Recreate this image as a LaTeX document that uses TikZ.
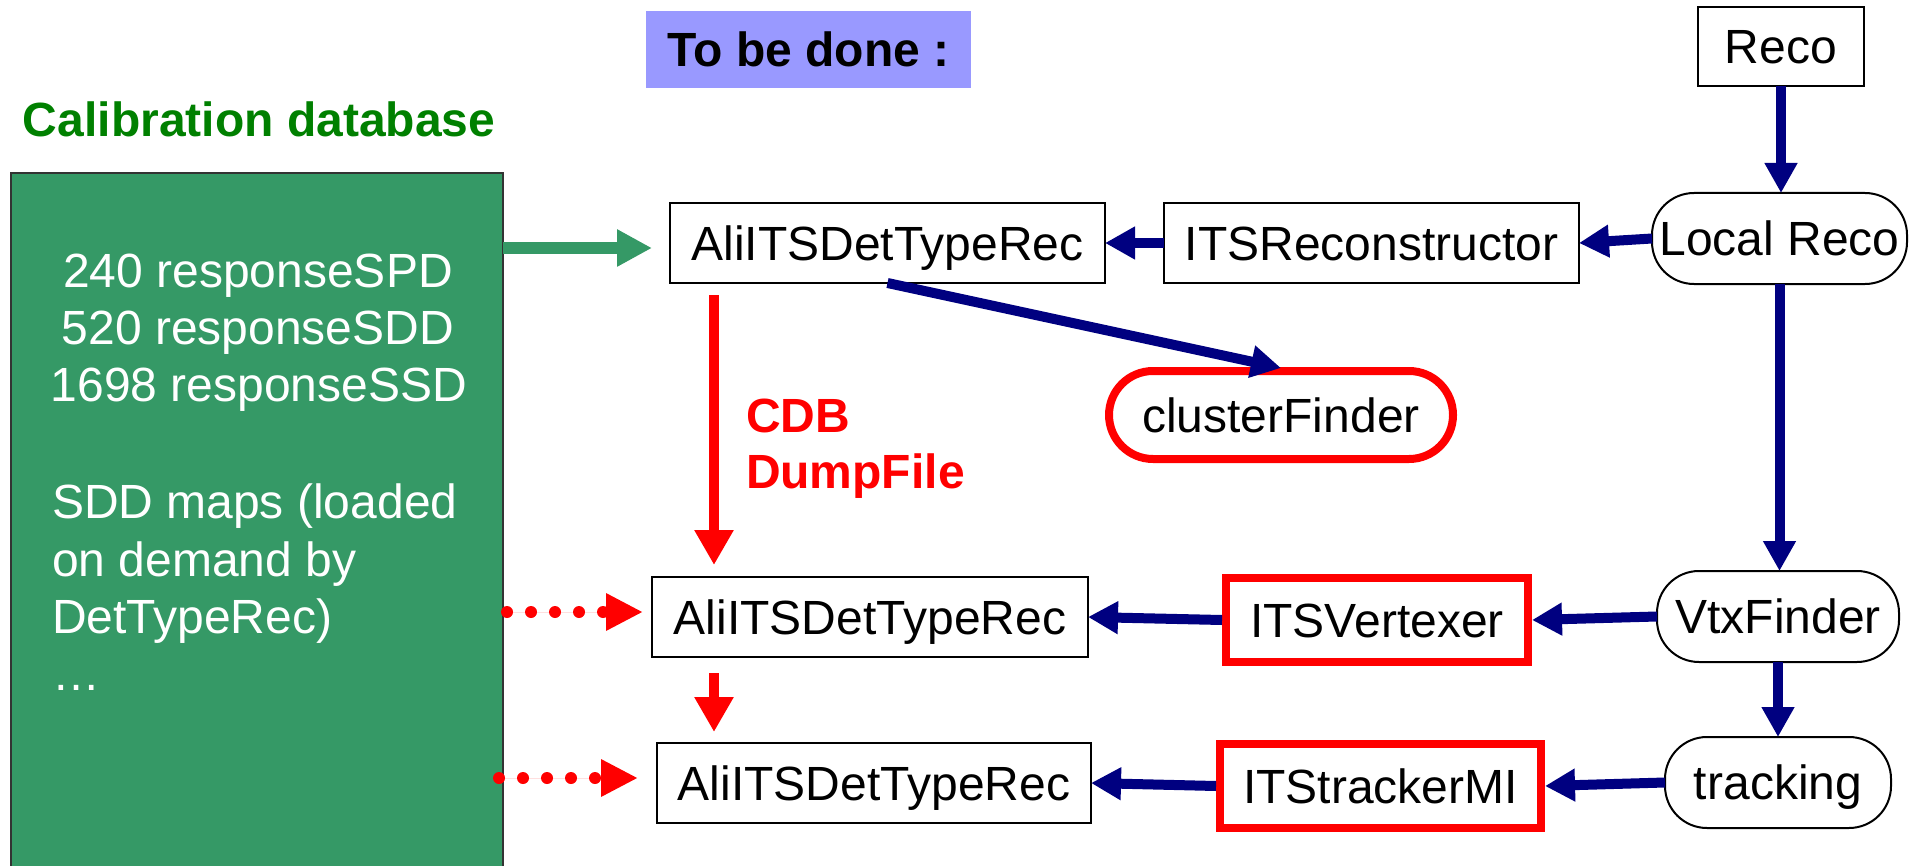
\documentclass[tikz,border=0pt]{standalone}
\usepackage{fontspec}
\setmainfont{Liberation Sans}
\usetikzlibrary{arrows.meta,calc}
\definecolor{navyc}{RGB}{0,0,128}
\definecolor{dbgreen}{RGB}{53,153,102}
\definecolor{titlegreen}{RGB}{0,128,0}
\definecolor{lav}{RGB}{153,153,255}
\begin{document}
\begin{tikzpicture}[x=0.5pt,y=-0.5pt,
  every node/.style={font=\fontsize{24pt}{28.5pt}\selectfont, inner sep=0pt, outer sep=0pt},
  capc/.style={text height=17.2pt, text depth=0pt},
  box/.style={capc, draw=black, line width=1pt, fill=white},
  oval/.style={capc, draw=black, line width=1pt, rounded corners=21pt, fill=white},
  redbox/.style={capc, draw=red, line width=4pt, fill=white},
  redoval/.style={capc, draw=red, line width=4pt, rounded corners=22pt, fill=white},
  navyarrow/.style={draw=navyc, line width=5pt, -{Triangle[length=15pt,width=15.5pt]}, fill=navyc},
  redarrow/.style={draw=red, line width=5pt, -{Triangle[length=17.5pt,width=18.5pt]}, fill=red},
  dotarrow/.style={draw=red, line width=6pt, line cap=round, dash pattern=on 0pt off 12pt, -{Triangle[length=18.5pt,width=17.5pt]}, fill=red},
  greenarrow/.style={draw=dbgreen, line width=6pt, -{Triangle[length=17.5pt,width=17.5pt]}, fill=dbgreen},
  dbtext/.style={text=white},
  boldf/.style={font=\fontsize{24pt}{28.5pt}\selectfont\bfseries},
]
\useasboundingbox (0,0) rectangle (1921,866);
% title boxes
\node[capc, fill=lav, minimum width=162.5pt, minimum height=38.5pt, boldf] (tobe) at (808.5,49.5) {To be done :};
\node[anchor=base west, text=titlegreen, boldf] (caltitle) at (23,137) {Calibration database};
% database box
\node[draw=black!80, line width=0.6pt, fill=dbgreen, minimum width=246pt, minimum height=348.5pt] (db) at (257,521.5) {};
\node[dbtext, anchor=base] (l1) at (258,287) {240 responseSPD};
\node[dbtext, anchor=base] (l2) at (258,344) {520 responseSDD};
\node[dbtext, anchor=base] (l3) at (259,401) {1698 responseSSD};
\node[dbtext, anchor=base west] (l4) at (52,518) {SDD maps (loaded};
\node[dbtext, anchor=base west] (l5) at (52,576) {on demand by};
\node[dbtext, anchor=base west] (l6) at (52,633) {DetTypeRec)};
\node[dbtext, anchor=base west] (l7) at (52,690) {…};
% nodes
\node[box, minimum width=217.5pt, minimum height=40pt] (ali1) at (887.5,243) {AliITSDetTypeRec};
\node[box, minimum width=207.5pt, minimum height=40pt] (recon) at (1371.5,243) {ITSReconstructor};
\node[box, minimum width=83pt, minimum height=39.5pt] (reco) at (1781,46.5) {Reco};
\node[oval, minimum width=127.5pt, minimum height=45.5pt] (local) at (1779.5,238.5) {Local Reco};
\node[redoval, minimum width=172pt, minimum height=44pt] (cluster) at (1281,415) {clusterFinder};
\node[box, minimum width=218pt, minimum height=40pt] (ali2) at (870,617) {AliITSDetTypeRec};
\node[box, minimum width=217pt, minimum height=40pt] (ali3) at (874,783) {AliITSDetTypeRec};
\node[redbox, minimum width=151pt, minimum height=42pt] (vtx) at (1377,620) {ITSVertexer};
\node[oval, minimum width=121pt, minimum height=45.5pt] (vtxf) at (1778,616.5) {VtxFinder};
\node[redbox, minimum width=160.5pt, minimum height=42pt] (tracker) at (1380.5,786) {ITStrackerMI};
\node[oval, minimum width=113pt, minimum height=45.5pt] (tracking) at (1778,782.5) {tracking};
% CDB label
\node[anchor=base west, text=red, boldf] (cdb) at (746,432) {CDB};
\node[anchor=base west, text=red, boldf] (dump) at (746,488) {DumpFile};
% connectors
\draw[greenarrow] ($(ali1.west -| db.east)+(0,5)$) -- ($(ali1.west)+(-18,5)$);
\draw[redarrow] ($(ali1.south west)+(44,12)$) -- ($(ali1.south west |- ali2.north)+(44,-12)$);
\draw[redarrow] ($(ali1.south west |- ali2.south)+(44,16)$) -- ($(ali1.south west |- ali3.north)+(44,-11)$);
\draw[dotarrow] ($(ali2.west -| db.east)+(4,-5)$) -- ($(ali2.west)+(-9,-5)$);
\draw[dotarrow] ($(ali3.west -| db.east)+(-4,-5)$) -- ($(ali3.west)+(-19,-5)$);
\draw[navyarrow] (reco.south) -- (reco.south |- local.north);
\draw[navyarrow] (local.west) -- (recon.east);
\draw[navyarrow] (recon.west) -- (ali1.east);
\draw[navyarrow] (ali1.south) -- ($(cluster.north)+(0,-3)$);
\draw[navyarrow] (local.south) -- (local.south |- vtxf.north);
\draw[navyarrow] (vtxf.west) -- ([xshift=2pt]vtx.east);
\draw[navyarrow] ([xshift=-2pt]vtx.west) -- (ali2.east);
\draw[navyarrow] (vtxf.south) -- (tracking.north);
\draw[navyarrow] (tracking.west) -- ([xshift=2pt]tracker.east);
\draw[navyarrow] ([xshift=-2pt]tracker.west) -- (ali3.east);
\end{tikzpicture}
\end{document}
